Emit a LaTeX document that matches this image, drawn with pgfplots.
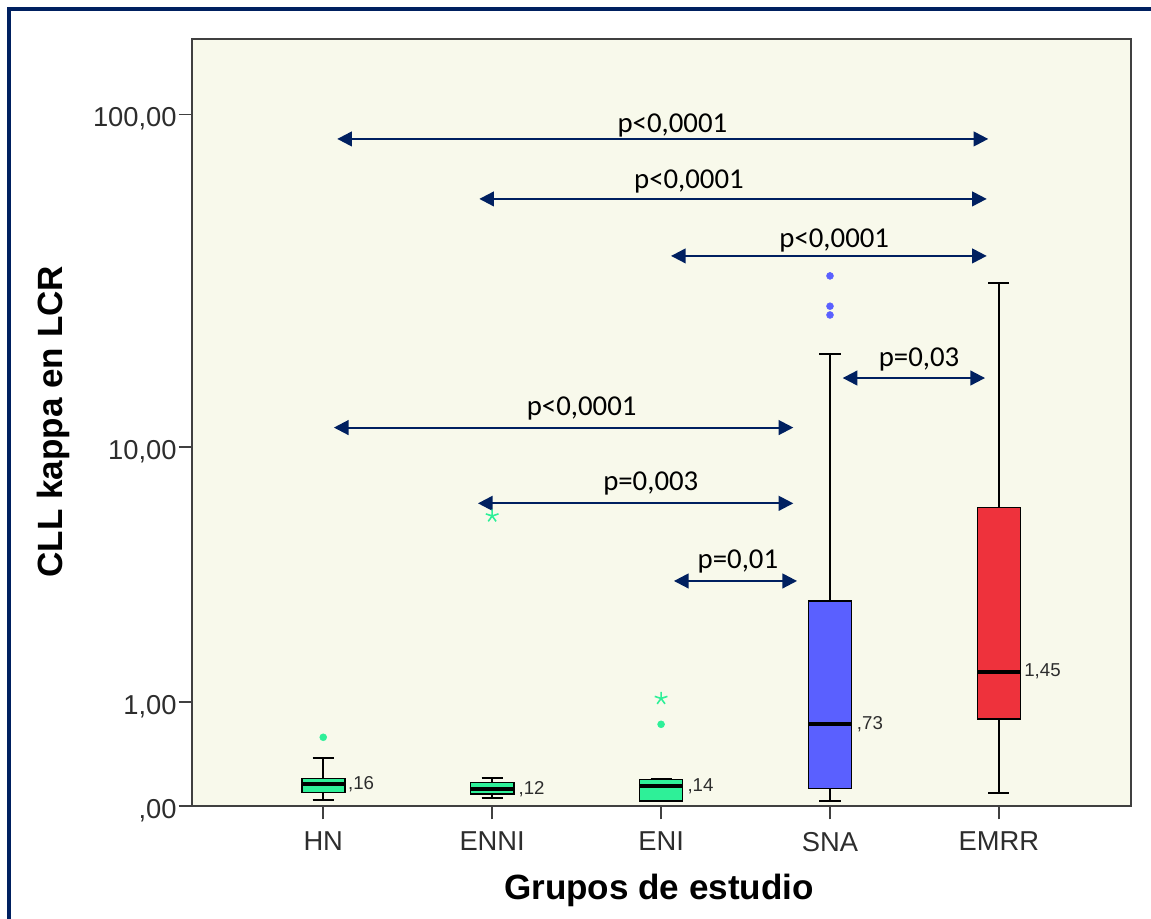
\documentclass[border=0pt]{standalone}
\usepackage{pgfplots}
\pgfplotsset{compat=1.18}
\usepgfplotslibrary{statistics}
\usetikzlibrary{arrows.meta}
\usepackage{fontspec}
\setmainfont{Liberation Sans}
\newfontfamily\calib{Carlito}
\definecolor{bg}{RGB}{248,249,235}
\definecolor{grn}{RGB}{46,240,152}
\definecolor{blu}{RGB}{90,96,255}
\definecolor{rd}{RGB}{238,50,60}
\definecolor{navy}{RGB}{0,32,96}
\definecolor{tl}{RGB}{45,45,45}
% the value axis is drawn on a log10(value+1) scale, as in the original chart
\newcommand\setlg[2]{\pgfmathsetmacro#1{0.4342944819*ln(1+#2)}}
\begin{document}%
\begin{tikzpicture}[x=1pt,y=1pt]
% box plot values (original units)
\setlg\HNlw{0.041}\setlg\HNlq{0.093}\setlg\HNmd{0.16}\setlg\HNuq{0.20}\setlg\HNuw{0.375}
\setlg\ENNIlw{0.057}\setlg\ENNIlq{0.083}\setlg\ENNImd{0.12}\setlg\ENNIuq{0.171}\setlg\ENNIuw{0.208}
\setlg\ENIlw{0.036}\setlg\ENIlq{0.036}\setlg\ENImd{0.14}\setlg\ENIuq{0.195}\setlg\ENIuw{0.195}
\setlg\SNAlw{0.036}\setlg\SNAlq{0.125}\setlg\SNAmd{0.73}\setlg\SNAuq{2.93}\setlg\SNAuw{19.4}
\setlg\EMlw{0.093}\setlg\EMlq{0.79}\setlg\EMmd{1.45}\setlg\EMuq{6.34}\setlg\EMuw{31.8}
% arrow heights (original units)
\setlg\Aa{84.8}\setlg\Ab{56.5}\setlg\Ac{38.3}\setlg\Ad{16.4}\setlg\Ae{11.5}\setlg\Af{6.54}\setlg\Ag{3.49}
\setlg\Ymax{166.2}
\setlg\Tone{1}\setlg\Tten{10}\setlg\Thun{100}
\path[use as bounding box] (-144,-84.75) rectangle (719.25,604.5);
\begin{axis}[
  at={(0,0)}, anchor=south west,
  scale only axis, width=704.25pt, height=575.25pt,
  xmin=-0.777, xmax=4.782,
  ymin=0, ymax=\Ymax,
  axis background/.style={fill=bg},
  axis line style={black!75, line width=1.3pt},
  tick style={black!75, line width=1.3pt},
  major tick length=10pt,
  tick align=outside,
  xtick pos=bottom, ytick pos=left,
  xtick={0,1,2,3,4}, xticklabels={HN,ENNI,ENI,SNA,EMRR},
  ytick={0,\Tone,\Tten,\Thun}, yticklabels={{,00},{1,00},{10,00},{100,00}},
  minor tick num=0,
  ticklabel style={font=\fontsize{20.5}{22}\selectfont, text=tl},
  xticklabel style={yshift=-6pt},
  yticklabel style={yshift=-3.5pt, xshift=2pt},
  xlabel={Grupos de estudio},
  ylabel={CLL kappa en LCR},
  xlabel style={font=\bfseries\fontsize{26.3}{30}\selectfont, at={(axis description cs:0.4973,-0.1095)}, anchor=center},
  ylabel style={font=\bfseries\fontsize{26.3}{30}\selectfont, at={(axis description cs:-0.148,0.501)}, anchor=center},
  boxplot/draw direction=y,
  boxplot/every median/.style={draw=black, line width=3pt},
  boxplot/every whisker/.style={draw=black, line width=1.3pt},
  boxplot/every box/.style={draw=black, line width=1.2pt},
  clip=false,
]
% HN
\addplot[fill=grn, draw=black, boxplot prepared={draw position=0, median=\HNmd, lower quartile=\HNlq, upper quartile=\HNuq, lower whisker=\HNlw, upper whisker=\HNuw, box extend=0.255, whisker extend=0.125}] coordinates {};
% ENNI
\addplot[fill=grn, draw=black, boxplot prepared={draw position=1, median=\ENNImd, lower quartile=\ENNIlq, upper quartile=\ENNIuq, lower whisker=\ENNIlw, upper whisker=\ENNIuw, box extend=0.255, whisker extend=0.125}] coordinates {};
% ENI
\addplot[fill=grn, draw=black, boxplot prepared={draw position=2, median=\ENImd, lower quartile=\ENIlq, upper quartile=\ENIuq, lower whisker=\ENIlw, upper whisker=\ENIuw, box extend=0.255, whisker extend=0.125}] coordinates {};
% SNA
\addplot[fill=blu, draw=black, boxplot prepared={draw position=3, median=\SNAmd, lower quartile=\SNAlq, upper quartile=\SNAuq, lower whisker=\SNAlw, upper whisker=\SNAuw, box extend=0.255, whisker extend=0.125}] coordinates {};
% EMRR
\addplot[fill=rd, draw=black, boxplot prepared={draw position=4, median=\EMmd, lower quartile=\EMlq, upper quartile=\EMuq, lower whisker=\EMlw, upper whisker=\EMuw, box extend=0.255, whisker extend=0.125}] coordinates {};
% outliers (original units)
\addplot[only marks, mark=*, mark size=2.6pt, color=grn] table[row sep=\\, x=x, y expr={0.4342944819*ln(1+\thisrow{v})}] {x v\\ 0 0.582\\ 2 0.725\\};
\addplot[only marks, mark=*, mark size=2.6pt, color=blu] table[row sep=\\, x=x, y expr={0.4342944819*ln(1+\thisrow{v})}] {x v\\ 3 33.4\\ 3 27.1\\ 3 25.5\\};
\addplot[only marks, mark=star, mark size=5pt, color=grn, line width=1.2pt] table[row sep=\\, x=x, y expr={0.4342944819*ln(1+\thisrow{v})}] {x v\\ 1 5.93\\ 2 1.05\\};
% median labels
\begin{scope}[every node/.style={anchor=west, inner sep=0pt, font=\fontsize{14}{14}\selectfont, text=tl}]
\node at (axis cs:0.146,\HNmd) {,16};
\node at (axis cs:1.155,\ENNImd) {,12};
\node at (axis cs:2.155,\ENImd) {,14};
\node at (axis cs:3.158,\SNAmd) {,73};
\node at (axis cs:4.149,\EMmd) {1,45};
\end{scope}
% comparison arrows
\begin{scope}[navy, line width=1.6pt, arrows={Triangle[length=11pt,width=11pt]-Triangle[length=11pt,width=11pt]}]
\draw (axis cs:0.083,\Aa) -- (axis cs:3.937,\Aa);
\draw (axis cs:0.924,\Ab) -- (axis cs:3.928,\Ab);
\draw (axis cs:2.059,\Ac) -- (axis cs:3.928,\Ac);
\draw (axis cs:3.075,\Ad) -- (axis cs:3.918,\Ad);
\draw (axis cs:0.063,\Ae) -- (axis cs:2.783,\Ae);
\draw (axis cs:0.916,\Af) -- (axis cs:2.783,\Af);
\draw (axis cs:2.076,\Ag) -- (axis cs:2.805,\Ag);
\end{scope}
\begin{scope}[every node/.style={anchor=base, inner sep=0pt, font=\calib\fontsize{21.6}{22}\selectfont, text=black}]
\node[yshift=4.7pt] at (axis cs:2.067,\Aa) {p<0,0001};
\node[yshift=8pt] at (axis cs:2.165,\Ab) {p<0,0001};
\node[yshift=6.5pt] at (axis cs:3.025,\Ac) {p<0,0001};
\node[yshift=8.7pt] at (axis cs:3.527,\Ad) {p=0,03};
\node[yshift=9pt] at (axis cs:1.530,\Ae) {p<0,0001};
\node[yshift=9.4pt] at (axis cs:1.939,\Af) {p=0,003};
\node[yshift=9.7pt] at (axis cs:2.455,\Ag) {p=0,01};
\end{scope}
\end{axis}
\draw[navy, line width=3.4pt] (-137.1,-90) -- (-137.1,597.9) -- (730,597.9);
\end{tikzpicture}%
\end{document}
